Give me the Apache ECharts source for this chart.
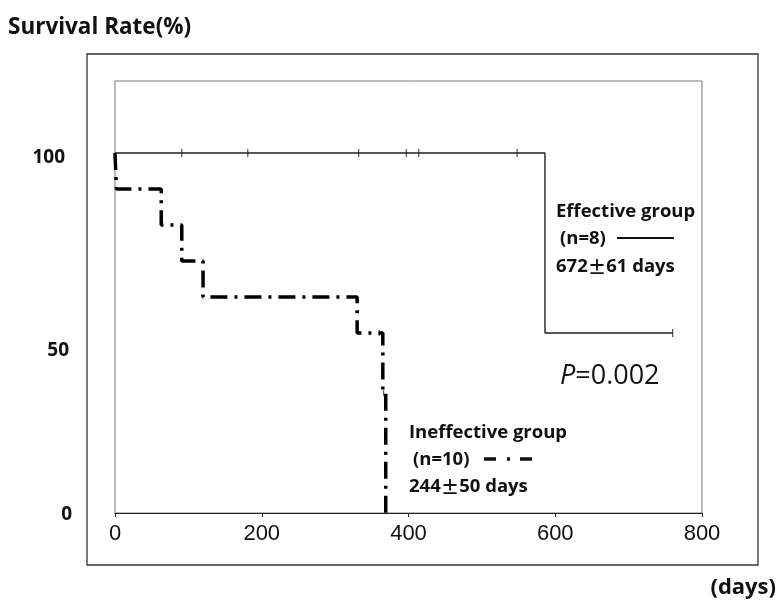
<!DOCTYPE html>
<html>
<head>
<meta charset="utf-8">
<script src="https://cdn.jsdelivr.net/npm/echarts@6/dist/echarts.min.js"></script>
<style>
html,body{margin:0;padding:0;background:#fff;}
#chart{width:781px;height:607px;}
</style>
</head>
<body>
<div id="chart"></div>
<script>
// ---- data ----
const xTicks = [0, 200, 400, 600, 800];
const yTickLabels = [100, 50, 0];
// Kaplan-Meier steps: [days, survival %]
const effectiveSteps = [[0, 100], [586, 50], [760, 50]];
const effectiveCensored = [[91, 100], [181, 100], [332, 100], [397, 100], [414, 100], [548, 100], [760, 50]];
const ineffectiveSteps = [[0, 100], [2, 90], [63, 80], [91, 70], [120, 60], [330, 50], [365, 33.3], [369, 0]];
const ineffectiveCensored = [[360, 50], [366, 33.3]];
const effectiveLabel = ['Effective group', '(n=8)', ['672', '61 days']];
const ineffectiveLabel = ['Ineffective group', '(n=10)', ['244', '50 days']];
const pValueText = '=0.002';

const chart = echarts.init(document.getElementById('chart'), null, {renderer: 'canvas'});
const boldFont = '"Open Sans", "DejaVu Sans", sans-serif';
const cjkFont = '"Noto Sans CJK JP", "Noto Sans CJK SC", sans-serif';
const dashDot = [17, 7, 3, 7];

const option = {
  backgroundColor: '#fff',
  animation: false,
  grid: {left: 115, right: 79, top: 81, bottom: 94, show: true, borderColor: '#777', borderWidth: 1},
  xAxis: {
    type: 'value', min: 0, max: 800, interval: 200,
    axisLine: {show: true, lineStyle: {color: '#222', width: 1.2}},
    axisTick: {show: true, inside: false, length: 4, lineStyle: {color: '#222'}},
    splitLine: {show: false},
    axisLabel: {show: true, margin: 10, fontFamily: '"Liberation Sans", Arial, sans-serif', fontSize: 22, color: '#111',
      formatter: v => xTicks.indexOf(v) >= 0 ? String(v) : ''}
  },
  yAxis: {
    type: 'value', min: 0, max: 120,
    axisLine: {show: false}, axisTick: {show: false}, splitLine: {show: false}, axisLabel: {show: false}
  },
  series: [
    {type: 'line', name: 'Effective', step: 'end', data: effectiveSteps, symbol: 'none',
      lineStyle: {color: '#222', width: 1.4}},
    {type: 'scatter', data: effectiveCensored, symbol: 'rect', symbolSize: [1.2, 8],
      itemStyle: {color: '#222'}},
    {type: 'line', name: 'Ineffective', step: 'end', data: ineffectiveSteps, symbol: 'none',
      lineStyle: {color: '#000', width: 3.5, type: dashDot, cap: 'butt'}},
    {type: 'scatter', data: ineffectiveCensored, symbol: 'rect', symbolSize: [1.2, 6],
      itemStyle: {color: '#333'}}
  ]
};
chart.setOption(option);

const yLabelOffsets = {100: 5, 50: 18, 0: 2};
const yLabelRight = {100: 65, 50: 69, 0: 72};
const g = [];
g.push({type: 'rect', shape: {x: 87, y: 54, width: 671, height: 511}, style: {fill: null, stroke: '#333', lineWidth: 1.3}, silent: true});
yTickLabels.forEach(v => {
  const py = chart.convertToPixel({yAxisIndex: 0}, v);
  g.push({type: 'text', x: yLabelRight[v], y: py + yLabelOffsets[v],
    style: {text: String(v), font: 'bold 19px ' + boldFont, fill: '#111', textAlign: 'right', textVerticalAlign: 'middle'}});
});
g.push({type: 'text', x: 8, y: 28, style: {text: 'Survival Rate(%)', font: 'bold 22.5px ' + boldFont, fill: '#111', textAlign: 'left', textVerticalAlign: 'middle'}});
g.push({type: 'text', x: 776, y: 588, style: {text: '(days)', font: 'bold 22px ' + boldFont, fill: '#111', textAlign: 'right', textVerticalAlign: 'middle'}});

const LS = 18.5;
function daysText(parts) {
  return {
    rich: {
      a: {fontSize: LS, fontWeight: 'bold', fontFamily: boldFont, fill: '#111'},
      pm: {fontSize: LS, fontWeight: 'bold', fontFamily: cjkFont, fill: '#111'}
    },
    text: '{a|' + parts[0] + '}{pm|\u00B1}{a|' + parts[1] + '}',
    textVerticalAlign: 'middle'
  };
}
g.push({type: 'text', x: 556, y: 212, style: {text: effectiveLabel[0], font: 'bold ' + LS + 'px ' + boldFont, fill: '#111', textVerticalAlign: 'middle'}});
g.push({type: 'text', x: 560, y: 239, style: {text: effectiveLabel[1], font: 'bold ' + LS + 'px ' + boldFont, fill: '#111', textVerticalAlign: 'middle'}});
g.push({type: 'line', shape: {x1: 617, y1: 238, x2: 674, y2: 238}, style: {stroke: '#111', lineWidth: 2}});
g.push({type: 'text', x: 556, y: 267, style: daysText(effectiveLabel[2])});
g.push({type: 'text', x: 560, y: 376, style: {rich: {p: {fontStyle: 'italic', fontSize: 27, fontFamily: boldFont, fill: '#111'}, n: {fontSize: 27, fontFamily: boldFont, fill: '#111'}},
  text: '{p|P}{n|' + pValueText + '}', textVerticalAlign: 'middle'}});
g.push({type: 'text', x: 409, y: 433, style: {text: ineffectiveLabel[0], font: 'bold ' + LS + 'px ' + boldFont, fill: '#111', textVerticalAlign: 'middle'}});
g.push({type: 'text', x: 413, y: 460, style: {text: ineffectiveLabel[1], font: 'bold ' + LS + 'px ' + boldFont, fill: '#111', textVerticalAlign: 'middle'}});
g.push({type: 'line', shape: {x1: 484, y1: 459, x2: 536, y2: 459}, style: {stroke: '#111', lineWidth: 3.5, lineDash: [12, 11, 3, 10]}});
g.push({type: 'text', x: 409, y: 487, style: daysText(ineffectiveLabel[2])});
chart.setOption({graphic: g});
</script>
</body>
</html>
